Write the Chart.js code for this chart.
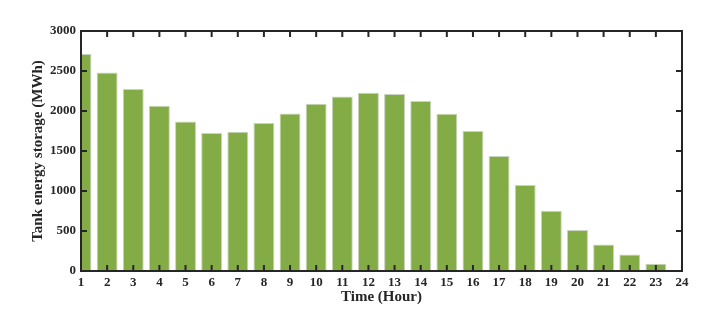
<!DOCTYPE html>
<html>
<head>
  <title>Tank energy storage</title>
  <script src="https://cdn.jsdelivr.net/npm/chart.js"></script>
  <style>
    body {
      margin: 0;
      background: white;
    }
    #wrap {
      width: 708px;
      height: 321px;
    }
  </style>
</head>
<body>
  <div id="wrap"><canvas id="chart" width="708" height="321"></canvas></div>

  <script>
    // hours 1..23, storage (MWh)
    const hours = [1, 2, 3, 4, 5, 6, 7, 8, 9, 10, 11, 12, 13, 14, 15, 16, 17, 18, 19, 20, 21, 22, 23];
    const storage = [2712, 2480, 2275, 2065, 1870, 1725, 1740, 1850, 1970, 2090, 2182, 2228, 2212, 2125, 1966, 1750, 1437, 1075, 754, 512, 330, 205, 92];
    const xRange = [1, 24];
    const yRange = [0, 3000];

    const serif = '"Liberation Serif", "Times New Roman", serif';
    const ink = '#262626';

    // box round the plot with ticks pointing inward on all four sides
    const frame = {
      id: 'frame',
      afterDatasetsDraw(chart) {
        const { ctx, chartArea: a, scales: { x, y } } = chart;
        const len = 6;
        ctx.save();
        ctx.strokeStyle = ink;
        ctx.lineWidth = 2;
        ctx.strokeRect(a.left, a.top, a.right - a.left, a.bottom - a.top);
        ctx.beginPath();
        x.ticks.forEach(t => {
          const px = x.getPixelForValue(t.value);
          ctx.moveTo(px, a.bottom);
          ctx.lineTo(px, a.bottom - len);
          ctx.moveTo(px, a.top);
          ctx.lineTo(px, a.top + len);
        });
        y.ticks.forEach(t => {
          const py = y.getPixelForValue(t.value);
          ctx.moveTo(a.left, py);
          ctx.lineTo(a.left + len, py);
          ctx.moveTo(a.right, py);
          ctx.lineTo(a.right - len, py);
        });
        ctx.stroke();
        ctx.restore();
      }
    };

    new Chart(document.getElementById('chart').getContext('2d'), {
      type: 'bar',
      data: {
        datasets: [{
          data: hours.map((h, i) => ({ x: h, y: storage[i] })),
          backgroundColor: '#83ab46',
          borderColor: '#c9d3bd',
          borderWidth: 1,
          barPercentage: 0.8,
          categoryPercentage: 1
        }]
      },
      options: {
        responsive: false,
        animation: false,
        layout: { padding: { left: 0, top: 31, right: 26, bottom: 0 } },
        plugins: {
          legend: { display: false },
          tooltip: { enabled: false }
        },
        scales: {
          x: {
            type: 'linear',
            offset: false,
            min: xRange[0],
            max: xRange[1],
            grid: { display: false, drawTicks: false, offset: false },
            border: { display: false },
            ticks: {
              stepSize: 1,
              autoSkip: false,
              maxRotation: 0,
              padding: 4,
              color: ink,
              font: { family: serif, size: 13, weight: 'bold' }
            },
            title: {
              display: true,
              text: 'Time (Hour)',
              color: ink,
              padding: { top: 0, bottom: 15 },
              font: { family: serif, size: 15, weight: 'bold' }
            },
            afterFit(scale) { scale.height = 50; }
          },
          y: {
            min: yRange[0],
            max: yRange[1],
            grid: { display: false, drawTicks: false },
            border: { display: false },
            ticks: {
              stepSize: 500,
              padding: 5,
              color: ink,
              font: { family: serif, size: 13, weight: 'bold' },
              callback: v => String(v)
            },
            title: {
              display: true,
              text: 'Tank energy storage (MWh)',
              color: ink,
              padding: { top: 29, bottom: 0 },
              font: { family: serif, size: 15, weight: 'bold' }
            },
            afterFit(scale) { scale.width = 81; }
          }
        }
      },
      plugins: [frame]
    });
  </script>
</body>
</html>
